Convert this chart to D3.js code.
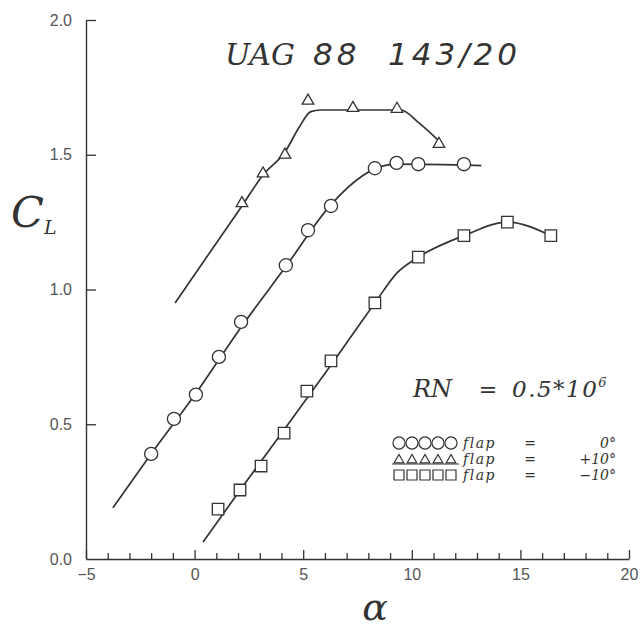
<!DOCTYPE html>
<html>
<head>
<meta charset="utf-8">
<script src="https://cdn.jsdelivr.net/npm/d3@7"></script>
<style>
  body { margin: 0; background: #fff; }
  svg { display: block; }
</style>
</head>
<body>
<div id="chart"></div>
<script>
// Chart values
var flap0Alpha = [-2.0, -0.95, 0.06, 1.12, 2.14, 4.2, 5.22, 6.28, 8.3, 9.3, 10.3, 12.4];
var flap0CL = [0.39, 0.52, 0.61, 0.75, 0.88, 1.09, 1.22, 1.31, 1.45, 1.47, 1.465, 1.465];
var flap0LineAlpha = [-3.76, -2.0, 0.06, 2.14, 4.2, 6.28, 7.7, 8.5, 9.3, 13.2];
var flap0LineCL = [0.19, 0.39, 0.615, 0.86, 1.085, 1.315, 1.42, 1.455, 1.465, 1.46];

var flapUpAlpha = [2.18, 3.15, 4.16, 5.22, 7.29, 9.32, 11.25];
var flapUpCL = [1.32, 1.43, 1.50, 1.70, 1.673, 1.67, 1.54];
var flapUpLineAlpha = [-0.9, 2.18, 3.15, 4.16, 4.8, 5.35, 5.8, 9.5, 10.3, 11.2];
var flapUpLineCL = [0.95, 1.31, 1.425, 1.51, 1.6, 1.66, 1.666, 1.666, 1.62, 1.555];

var flapDownAlpha = [1.08, 2.09, 3.06, 4.12, 5.17, 6.28, 8.3, 10.3, 12.4, 14.4, 16.4];
var flapDownCL = [0.185, 0.256, 0.345, 0.467, 0.623, 0.735, 0.95, 1.12, 1.20, 1.25, 1.20];
var flapDownLineAlpha = [0.39, 2.09, 4.12, 6.28, 8.3, 9.3, 10.3, 12.4, 14.4, 16.4];
var flapDownLineCL = [0.063, 0.255, 0.48, 0.72, 0.95, 1.06, 1.12, 1.20, 1.25, 1.20];

var xMajorTicks = [-5, 0, 5, 10, 15, 20];
var yTicks = [0.0, 0.5, 1.0, 1.5, 2.0];
var legendLabels = ["0°", "+10°", "\u221210°"];

var ink = "#333";
var serif = "DejaVu Serif, Liberation Serif, serif";

var svg = d3.select("#chart").append("svg")
  .attr("width", 642)
  .attr("height", 630);

var xScale = d3.scaleLinear().domain([-5, 20]).range([86, 629]);
var yScale = d3.scaleLinear().domain([0, 2]).range([559, 20]);

// Axes: ticks point inward, like the plotted original
var minorTicks = d3.range(-5, 21, 1).filter(d => d % 5 !== 0);

svg.append("g")
  .attr("transform", "translate(0,559)")
  .call(d3.axisBottom(xScale).tickValues(minorTicks).tickSizeInner(-6).tickSizeOuter(0).tickFormat(""))
  .call(g => g.select(".domain").remove());

var xAxis = svg.append("g")
  .attr("transform", "translate(0,559)")
  .call(d3.axisBottom(xScale).tickValues(xMajorTicks).tickSizeInner(-9).tickSizeOuter(0)
    .tickPadding(10).tickFormat(d => d < 0 ? "\u2212" + Math.abs(d) : d));

var yAxis = svg.append("g")
  .attr("transform", "translate(86,0)")
  .call(d3.axisLeft(yScale).tickValues(yTicks).tickSizeInner(-10).tickSizeOuter(0)
    .tickPadding(14).tickFormat(d3.format(".1f")));

[xAxis, yAxis].forEach(function(g) {
  g.selectAll("path").attr("stroke", ink).attr("stroke-width", 1.4);
  g.selectAll("text")
    .attr("fill", "#555")
    .attr("font-family", "Liberation Sans, Arial, sans-serif")
    .attr("font-size", 16);
});
yAxis.select(".tick:first-of-type line").remove();
svg.selectAll(".tick line").attr("stroke", ink).attr("stroke-width", 1.3);

// Curves
var line = d3.line()
  .x(d => xScale(d[0]))
  .y(d => yScale(d[1]))
  .curve(d3.curveMonotoneX);

var lines = [
  [flap0LineAlpha, flap0LineCL],
  [flapUpLineAlpha, flapUpLineCL],
  [flapDownLineAlpha, flapDownLineCL]
];
lines.forEach(function(l) {
  svg.append("path")
    .datum(l[0].map((a, i) => [a, l[1][i]]))
    .attr("d", line)
    .attr("fill", "none")
    .attr("stroke", ink)
    .attr("stroke-width", 1.7);
});

// Markers
var series = [
  { alpha: flap0Alpha, cl: flap0CL, symbol: d3.symbolCircle, size: 135 },
  { alpha: flapUpAlpha, cl: flapUpCL, symbol: d3.symbolTriangle, size: 58 },
  { alpha: flapDownAlpha, cl: flapDownCL, symbol: d3.symbolSquare, size: 132 }
];
series.forEach(function(s) {
  svg.append("g").selectAll("path")
    .data(s.alpha.map((a, i) => [a, s.cl[i]]))
    .enter()
    .append("path")
    .attr("d", d3.symbol().type(s.symbol).size(s.size))
    .attr("transform", d => `translate(${xScale(d[0])},${yScale(d[1])})`)
    .attr("fill", "#fff")
    .attr("stroke", ink)
    .attr("stroke-width", 1.3);
});

// Title
var titleFont = "DejaVu Sans, Liberation Sans, sans-serif";
svg.append("text")
  .attr("x", 225).attr("y", 65)
  .attr("font-family", serif)
  .attr("font-style", "italic")
  .attr("font-size", 30)
  .attr("fill", ink)
  .text("UAG");
svg.append("text")
  .attr("x", 313).attr("y", 65)
  .attr("font-family", titleFont)
  .attr("font-style", "italic")
  .attr("font-size", 31)
  .attr("letter-spacing", 4)
  .attr("fill", ink)
  .text("88");
svg.append("text")
  .attr("x", 388).attr("y", 65)
  .attr("font-family", titleFont)
  .attr("font-style", "italic")
  .attr("font-size", 31)
  .attr("letter-spacing", 4)
  .attr("fill", ink)
  .text("143/20");

// Axis titles
var cl = svg.append("text")
  .attr("x", 11).attr("y", 227)
  .attr("font-family", serif)
  .attr("font-style", "italic")
  .attr("fill", ink);
cl.append("tspan").attr("font-size", 43).text("C");
cl.append("tspan").attr("font-size", 19).attr("dy", 7).text("L");

svg.append("text")
  .attr("x", 375).attr("y", 620)
  .attr("text-anchor", "middle")
  .attr("font-family", serif)
  .attr("font-style", "italic")
  .attr("font-size", 38)
  .attr("fill", ink)
  .text("\u03b1");

// Reynolds number note
svg.append("text")
  .attr("x", 413).attr("y", 397)
  .attr("font-family", serif).attr("font-style", "italic")
  .attr("font-size", 24)
  .attr("fill", ink).text("RN");
svg.append("text")
  .attr("x", 488).attr("y", 397)
  .attr("text-anchor", "middle")
  .attr("font-family", serif)
  .attr("font-size", 22)
  .attr("fill", ink).text("=");
var rnVal = svg.append("text")
  .attr("x", 512).attr("y", 397)
  .attr("font-family", serif).attr("font-style", "italic")
  .attr("font-size", 23)
  .attr("letter-spacing", 1.5)
  .attr("fill", ink);
rnVal.append("tspan").text("0.5*10");
rnVal.append("tspan").attr("dy", -10).attr("font-size", 13).attr("letter-spacing", 0).text("6");

// Legend
var legendY = [443, 459, 475];
series.forEach(function(s, i) {
  var g = svg.append("g");
  var sz = i === 1 ? 40 : (i === 0 ? 115 : 100);
  g.selectAll("path")
    .data(d3.range(5))
    .enter()
    .append("path")
    .attr("d", d3.symbol().type(s.symbol).size(sz))
    .attr("transform", k => `translate(${399 + k * 13},${legendY[i] + (i === 1 ? 1 : 0)})`)
    .attr("fill", "#fff")
    .attr("stroke", ink)
    .attr("stroke-width", 1.2);
  g.append("text")
    .attr("x", 463).attr("y", legendY[i] + 5)
    .attr("font-family", serif)
    .attr("font-style", "italic")
    .attr("font-size", 14)
    .attr("letter-spacing", 1.5)
    .attr("fill", ink)
    .text("flap");
  g.append("text")
    .attr("x", 530).attr("y", legendY[i] + 5)
    .attr("text-anchor", "middle")
    .attr("font-family", serif)
    .attr("font-size", 14)
    .attr("fill", ink)
    .text("=");
  g.append("text")
    .attr("x", 616).attr("y", legendY[i] + 5)
    .attr("text-anchor", "end")
    .attr("font-family", serif)
    .attr("font-style", "italic")
    .attr("font-size", 14)
    .attr("fill", ink)
    .text(legendLabels[i]);
});
svg.append("line")
  .attr("x1", 392).attr("x2", 459)
  .attr("y1", 464).attr("y2", 464)
  .attr("stroke", ink).attr("stroke-width", 1);
</script>
</body>
</html>
